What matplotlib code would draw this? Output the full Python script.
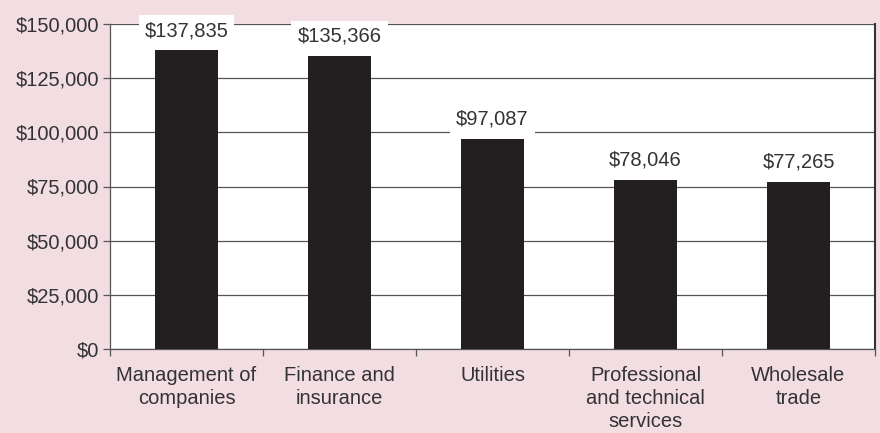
import matplotlib.pyplot as plt
from matplotlib.ticker import FuncFormatter

plt.rcParams['font.family'] = ['Liberation Sans', 'DejaVu Sans']

categories = ['Management of\ncompanies', 'Finance and\ninsurance', 'Utilities',
              'Professional\nand technical\nservices', 'Wholesale\ntrade']
wages = [137835, 135366, 97087, 78046, 77265]

pink = '#f2dde2'
text_col = '#333333'
fs = 14.5

fig = plt.figure(figsize=(8.8, 4.33), dpi=100, facecolor=pink)
ax = fig.add_axes([110 / 880, 1 - 349 / 433, 765 / 880, 325 / 433])
ax.set_facecolor('white')

x = range(len(categories))
bars = ax.bar(x, wages, width=0.41, color='#231f20', zorder=3)

ax.set_xlim(-0.5, len(categories) - 0.5)
ax.set_ylim(0, 150000)
ax.set_yticks(range(0, 150001, 25000))
ax.yaxis.set_major_formatter(FuncFormatter(lambda v, p: f'${v:,.0f}'))
ax.yaxis.grid(True, color='#555555', linewidth=0.9, zorder=1)

# category ticks sit between the bars
ax.set_xticks([i + 0.5 for i in range(-1, len(categories))], minor=False)
ax.set_xticklabels([])
ax.set_xticks(list(x), minor=True)
ax.set_xticklabels(categories, minor=True, fontsize=fs, color=text_col,
                   linespacing=1.28)
ax.tick_params(axis='x', which='minor', length=0, pad=12)
ax.tick_params(axis='x', which='major', length=5, width=0.9, color='#555555')
ax.tick_params(axis='y', length=5, width=0.9, color='#555555',
               labelsize=fs, labelcolor=text_col, pad=3)

for s in ['left', 'bottom']:
    ax.spines[s].set_color('#555555')
    ax.spines[s].set_linewidth(0.9)
ax.spines['top'].set_visible(False)
ax.spines['right'].set_color('#333333')
ax.spines['right'].set_linewidth(1.5)

for b, v in zip(bars, wages):
    ax.annotate(f'${v:,}', (b.get_x() + b.get_width() / 2, v),
                xytext=(0, 14), textcoords='offset points',
                ha='center', va='center', fontsize=fs, color=text_col,
                bbox=dict(boxstyle='square,pad=0.3', fc='white', ec='none'),
                annotation_clip=False, zorder=5)

fig.savefig('out.png', dpi=100, facecolor=pink)
